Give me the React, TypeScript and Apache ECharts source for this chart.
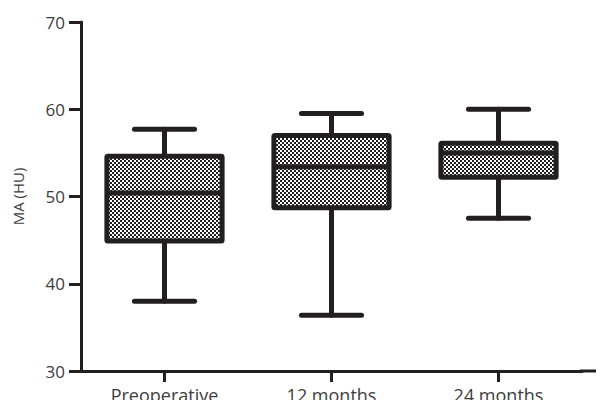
import React, { useEffect, useRef } from "react";
import * as echarts from "echarts";

const categories = ["Preoperative", "12 months", "24 months"];
const minVals = [38.0, 36.4, 47.5];
const q1Vals = [44.9, 48.7, 52.2];
const medianVals = [50.4, 53.4, 55.0];
const q3Vals = [54.6, 57.0, 56.1];
const maxVals = [57.7, 59.5, 60.0];
const yTicks = [30, 40, 50, 60, 70];

const INK = "#231f20";
const LABEL = "#3d3d3d";

function makePattern() {
  const c = document.createElement("canvas");
  c.width = 4;
  c.height = 4;
  const ctx = c.getContext("2d")!;
  ctx.fillStyle = "#ffffff";
  ctx.fillRect(0, 0, 4, 4);
  ctx.fillStyle = INK;
  ctx.fillRect(0, 0, 2, 2);
  ctx.fillRect(2, 2, 2, 2);
  return { image: c.toDataURL(), repeat: "repeat", imageWidth: 4, imageHeight: 4 } as any;
}

export default function App() {
  const ref = useRef<HTMLDivElement>(null);
  useEffect(() => {
    if (!ref.current) return;
    const chart = echarts.init(ref.current, null, { renderer: "svg" });
    const pattern = makePattern();
    const data = categories.map((_, i) => [i, minVals[i], q1Vals[i], medianVals[i], q3Vals[i], maxVals[i]]);
    const font = "'Open Sans', 'Noto Sans', sans-serif";
    chart.setOption({
      animation: false,
      backgroundColor: "#ffffff",
      grid: { left: 81, right: 22, top: 22, bottom: 37, containLabel: false, outerBoundsMode: "none" },
      xAxis: {
        type: "category",
        data: categories,
        boundaryGap: true,
        axisLine: { show: true, lineStyle: { color: INK, width: 3 } },
        axisTick: { show: true, alignWithLabel: true, length: 11, lineStyle: { color: INK, width: 3 } },
        axisLabel: { color: LABEL, fontSize: 18, margin: 15, lineHeight: 18, fontFamily: font },
        splitLine: { show: false },
      },
      yAxis: {
        type: "value",
        min: yTicks[0],
        max: yTicks[yTicks.length - 1],
        interval: 10,
        name: "MA (HU)",
        nameLocation: "middle",
        nameGap: 56,
        nameTextStyle: { color: LABEL, fontSize: 15, fontFamily: font },
        axisLine: { show: true, lineStyle: { color: INK, width: 3 } },
        axisTick: { show: true, length: 12, lineStyle: { color: INK, width: 3 } },
        axisLabel: { color: LABEL, fontSize: 17, margin: 16, fontFamily: font },
        splitLine: { show: false },
      },
      graphic: [
        {
          type: "line",
          shape: { x1: 580, y1: 371, x2: 604, y2: 371 },
          style: { stroke: INK, lineWidth: 3 },
        },
      ],
      series: [
        {
          type: "custom",
          data,
          encode: { x: 0, y: [1, 2, 3, 4, 5] },
          renderItem: (params: any, api: any) => {
            const idx = api.value(0);
            const lo = api.coord([idx, api.value(1)]);
            const q1 = api.coord([idx, api.value(2)]);
            const med = api.coord([idx, api.value(3)]);
            const q3 = api.coord([idx, api.value(4)]);
            const hi = api.coord([idx, api.value(5)]);
            const band = api.size([1, 0])[0];
            const bw = band * 0.69;
            const cw = band * 0.36;
            const cx = lo[0];
            const st = { stroke: INK, lineWidth: 5, lineCap: "round" };
            return {
              type: "group",
              children: [
                { type: "line", shape: { x1: cx, y1: hi[1], x2: cx, y2: q3[1] }, style: st },
                { type: "line", shape: { x1: cx, y1: q1[1], x2: cx, y2: lo[1] }, style: st },
                { type: "line", shape: { x1: cx - cw / 2, y1: hi[1], x2: cx + cw / 2, y2: hi[1] }, style: st },
                { type: "line", shape: { x1: cx - cw / 2, y1: lo[1], x2: cx + cw / 2, y2: lo[1] }, style: st },
                {
                  type: "rect",
                  shape: { x: cx - bw / 2, y: q3[1], width: bw, height: q1[1] - q3[1], r: 1 },
                  style: { fill: pattern, stroke: INK, lineWidth: 5, lineJoin: "round" },
                },
                { type: "line", shape: { x1: cx - bw / 2, y1: med[1], x2: cx + bw / 2, y2: med[1] }, style: { stroke: INK, lineWidth: 5 } },
              ],
            };
          },
        },
      ],
    });
    return () => chart.dispose();
  }, []);
  return <div ref={ref} style={{ width: 604, height: 408, margin: -8 }} />;
}
